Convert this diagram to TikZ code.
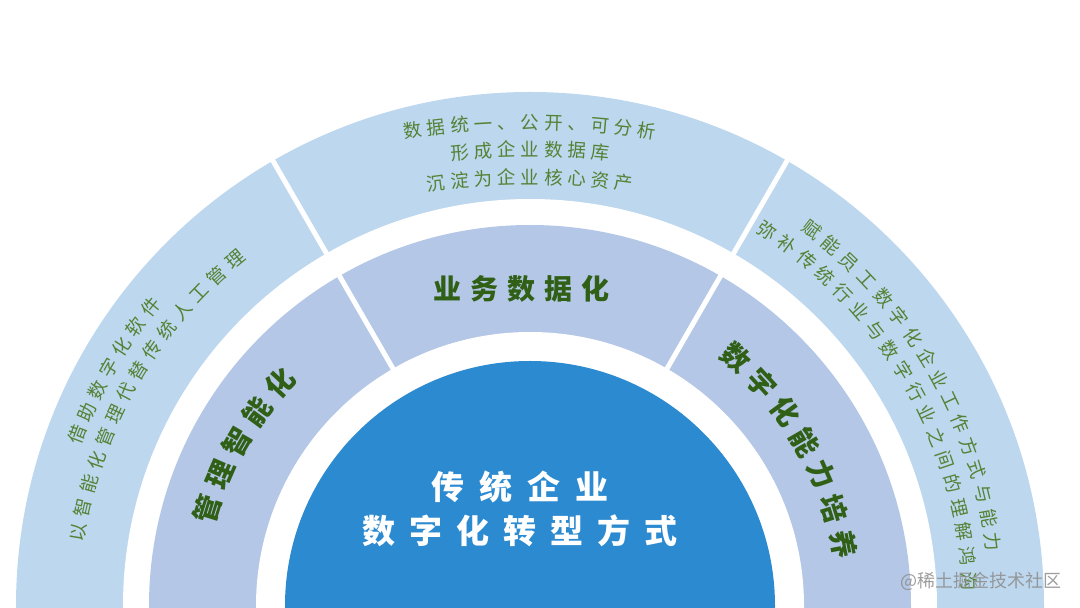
\documentclass[tikz,border=0pt]{standalone}
\usepackage{fontspec}
\setmainfont{Noto Sans CJK SC}
\usetikzlibrary{calc}
\definecolor{outerc}{RGB}{189,215,238}
\definecolor{midc}{RGB}{180,199,231}
\definecolor{corec}{RGB}{44,138,208}
\definecolor{txtlight}{RGB}{84,130,53}
\definecolor{txtdark}{RGB}{48,95,22}
\definecolor{wmark}{RGB}{140,140,140}
\tikzset{
  ochar/.style={font=\fontsize{18.5}{20}\selectfont, text=txtlight, inner sep=0pt, text height=16.3pt, text depth=2.2pt},
  mchar/.style={font=\fontsize{28}{30}\selectfont\bfseries, text=txtdark, inner sep=0pt, text height=24.6pt, text depth=3.4pt},
  cchar/.style={font=\fontsize{33}{36}\selectfont\bfseries, text=white, inner sep=0pt, text height=29pt, text depth=4pt},
  sepline/.style={white, line width=5pt},
}
% #1 name, #2 centre, #3 radius, #4 middle angle, #5 pitch, #6 style, #7 characters
\newcommand\arcchars[7]{%
  \pgfmathsetmacro\stp{#5/#3*180/pi}%
  \foreach \ch [count=\n] in {#7} {\xdef\nch{\n}}%
  \pgfmathsetmacro\startang{#4+(\nch-1)/2*\stp}%
  \foreach \ch [count=\i] in {#7} {%
    \pgfmathsetmacro\ang{\startang-(\i-1)*\stp}%
    \node[#6, rotate=\ang-90] (#1-\i) at ($#2+(\ang:#3)$) {\ch};
  }%
}
% #1 name, #2 centre x, #3 y, #4 pitch, #5 style, #6 characters
\newcommand\rowchars[6]{%
  \foreach \ch [count=\n] in {#6} {\xdef\nch{\n}}%
  \foreach \ch [count=\i] in {#6} {%
    \pgfmathsetmacro\xx{#2+(\i-1-(\nch-1)/2)*#4}%
    \node[#5] (#1-\i) at (\xx,#3) {\ch};
  }%
}
\begin{document}
\begin{tikzpicture}[x=1pt,y=1pt]
\useasboundingbox (0,0) rectangle (1080,608);
\clip (0,0) rectangle (1080,608);
\coordinate (O) at (530,2);
\coordinate (T) at (521,2);
\coordinate (A) at (530,-314);
% rings
\fill[outerc] (O) circle (514);
\fill[white] (O) circle (407);
\fill[midc] (O) circle (381);
\fill[white] (O) circle (274);
\fill[corec] (O) circle (245);
% separators
\draw[sepline] ($(O)+(60:262)$) -- ($(O)+(60:520)$);
\draw[sepline] ($(O)+(120:262)$) -- ($(O)+(120:520)$);
% top outer text
\arcchars{ta}{(A)}{800}{90}{23.5}{ochar}{数,据,统,一,、,公,开,、,可,分,析}
\arcchars{tb}{(A)}{773}{90}{23.5}{ochar}{形,成,企,业,数,据,库}
\arcchars{tc}{(A)}{745}{90}{23.5}{ochar}{沉,淀,为,企,业,核,心,资,产}
% left outer text
\arcchars{la}{(T)}{476}{150}{24.7}{ochar}{借,助,数,字,化,软,件}
\arcchars{lb}{(T)}{449}{150}{24.7}{ochar}{以,智,能,化,管,理,代,替,传,统,人,工,管,理}
% right outer text
\arcchars{ra}{(T)}{476}{30}{24.7}{ochar}{赋,能,员,工,数,字,化,企,业,工,作,方,式,与,能,力}
\arcchars{rb}{(T)}{449}{30}{24.7}{ochar}{弥,补,传,统,行,业,与,数,字,行,业,之,间,的,理,解,鸿,沟}
% middle labels
\rowchars{mt}{521.5}{319}{37}{mchar}{业,务,数,据,化}
\arcchars{ml}{(T)}{328}{150}{36.5}{mchar}{管,理,智,能,化}
\arcchars{mr}{(T)}{328}{30}{36.5}{mchar}{数,字,化,能,力,培,养}
% centre text
\rowchars{ca}{520}{121}{48}{cchar}{传,统,企,业}
\rowchars{cb}{520}{77}{47}{cchar}{数,字,化,转,型,方,式}
% watermark
\node[font=\fontsize{18}{20}\selectfont, text=wmark, opacity=0.85, inner sep=0pt] (wm) at (981,27) {@稀土掘金技术社区};
\end{tikzpicture}
\end{document}
